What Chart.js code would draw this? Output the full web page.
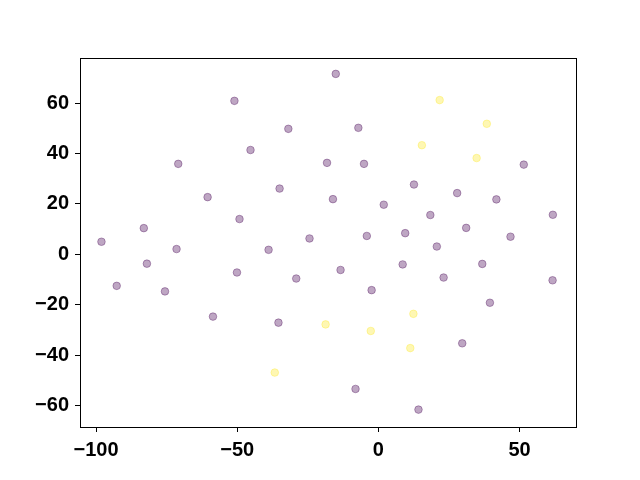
<!DOCTYPE html>
<html>
<head>
<meta charset="utf-8">
<script src="https://cdn.jsdelivr.net/npm/chart.js@4/dist/chart.umd.min.js"></script>
<style>
  html, body { margin: 0; padding: 0; background: #fff; }
  #wrap { width: 640px; height: 480px; }
</style>
</head>
<body>
<div id="wrap"><canvas id="scatter" width="640" height="480"></canvas></div>
<script>
// cluster 0 (dark purple)
const purpleX = [-15.1, -51.0, -31.9, -7.1, -45.3, -70.9, -18.2, -5.1, 51.5, 12.6,
  -35.0, 27.9, -60.5, -16.1, 41.8, 1.9, 61.8, 18.4, -49.2, -83.1,
  31.1, 9.5, -4.1, 46.8, -24.4, -98.1, 20.7, -38.9, -71.5, -82.0,
  8.6, 36.8, -13.4, -50.1, 23.1, -29.1, 61.7, -92.7, -75.6, -2.4,
  39.5, -58.6, -35.4, 29.7, -8.1, 14.2];
const purpleY = [71.6, 60.9, 49.8, 50.2, 41.4, 35.9, 36.3, 35.9, 35.6, 27.7,
  26.1, 24.3, 22.7, 21.9, 21.8, 19.7, 15.7, 15.6, 14.0, 10.4,
  10.5, 8.4, 7.3, 7.0, 6.3, 5.0, 3.1, 1.8, 2.1, -3.7,
  -4.0, -3.8, -6.2, -7.2, -9.2, -9.6, -10.3, -12.5, -14.7, -14.2,
  -19.2, -24.7, -27.1, -35.3, -53.4, -61.6];

// cluster 1 (yellow)
const yellowX = [21.7, 38.4, 15.4, 34.8, -18.7, -2.7, 12.4, 11.3, -36.7];
const yellowY = [61.2, 51.8, 43.3, 38.2, -27.8, -30.4, -23.6, -37.2, -46.9];

const xTicks = [-100, -50, 0, 50];
const yTicks = [-60, -40, -20, 0, 20, 40, 60];

function toPoints(xs, ys) {
  return xs.map((x, i) => ({ x: x, y: ys[i] }));
}

// box around the plot area (all four spines)
const frame = {
  id: 'frame',
  afterDraw(chart) {
    const a = chart.chartArea;
    const ctx = chart.ctx;
    ctx.save();
    ctx.strokeStyle = '#000';
    ctx.lineWidth = 1;
    ctx.strokeRect(Math.round(a.left) + 0.5, Math.round(a.top) + 0.5,
      Math.round(a.right - a.left), Math.round(a.bottom - a.top));
    ctx.restore();
  }
};

const tickFont = { family: '"Liberation Sans", Arial, sans-serif', weight: 'bold', size: 20 };
const minus = v => String(v).replace('-', '\u2212');

new Chart(document.getElementById('scatter'), {
  type: 'scatter',
  data: {
    datasets: [{
      data: toPoints(purpleX, purpleY),
      backgroundColor: 'rgba(68,1,84,0.35)',
      borderColor: 'rgba(68,1,84,0.35)',
      borderWidth: 1,
      pointRadius: 3.8
    }, {
      data: toPoints(yellowX, yellowY),
      backgroundColor: 'rgba(253,231,37,0.35)',
      borderColor: 'rgba(253,231,37,0.35)',
      borderWidth: 1,
      pointRadius: 3.8
    }]
  },
  options: {
    responsive: false,
    animation: false,
    events: [],
    layout: { padding: { left: 0, right: 64, top: 58, bottom: 0 } },
    plugins: { legend: { display: false }, tooltip: { enabled: false } },
    scales: {
      x: {
        min: -105.7, max: 70,
        afterBuildTicks: s => { s.ticks = xTicks.map(v => ({ value: v })); },
        afterFit: s => { s.height = 53; },
        grid: { drawOnChartArea: false, drawTicks: true, tickLength: 5, color: '#000', lineWidth: 1 },
        border: { display: false },
        ticks: { color: '#000', font: tickFont, padding: 6, callback: minus, maxRotation: 0 }
      },
      y: {
        min: -68.5, max: 77.9,
        afterBuildTicks: s => { s.ticks = yTicks.map(v => ({ value: v })); },
        afterFit: s => { s.width = 80; },
        grid: { drawOnChartArea: false, drawTicks: true, tickLength: 5, color: '#000', lineWidth: 1 },
        border: { display: false },
        ticks: { color: '#000', font: tickFont, padding: 6, callback: minus }
      }
    }
  },
  plugins: [frame]
});
</script>
</body>
</html>
